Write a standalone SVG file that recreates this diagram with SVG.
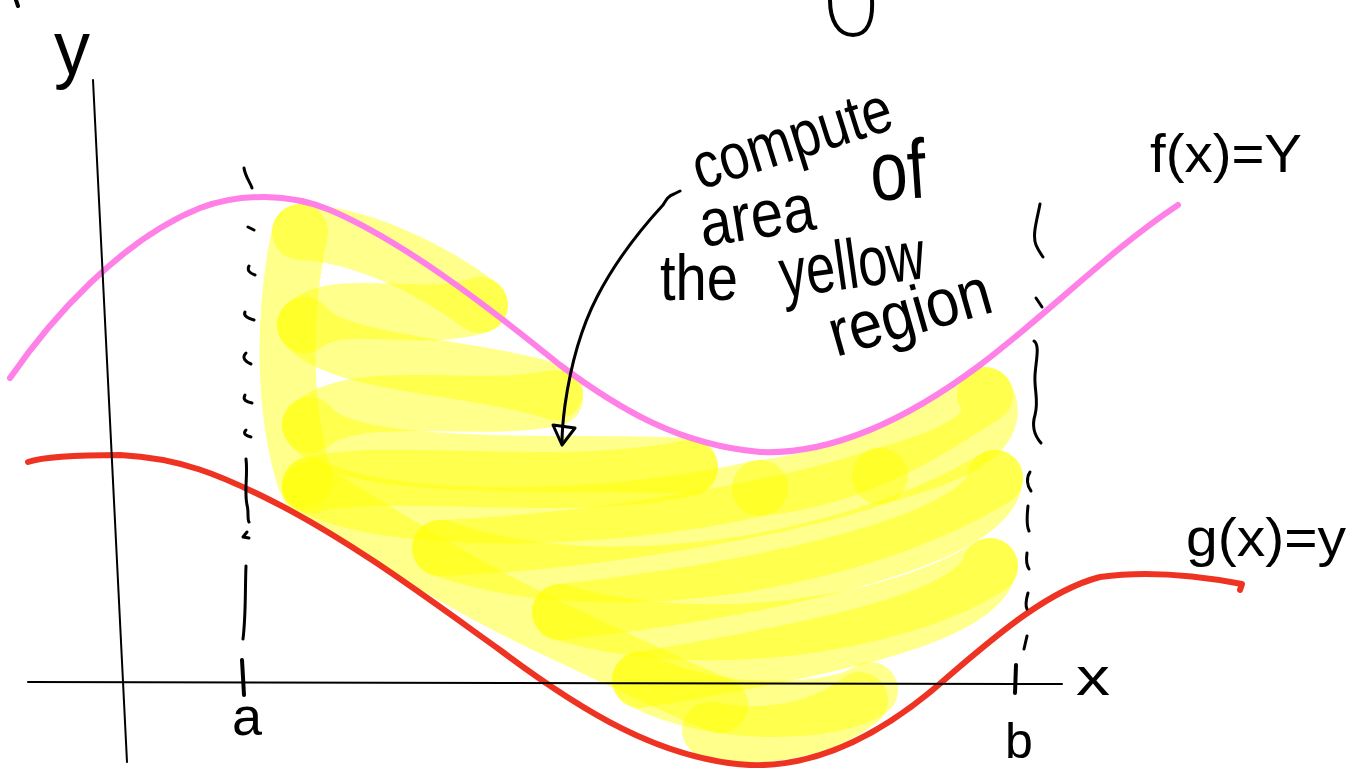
<svg xmlns="http://www.w3.org/2000/svg" width="1349" height="768" viewBox="0 0 1349 768">
<style>
.yl{fill:none;stroke:#ffff00;stroke-opacity:0.45;stroke-width:56;stroke-linecap:round;stroke-linejoin:round}
.ink{fill:none;stroke:#000;stroke-linecap:round;stroke-linejoin:round}
.ax{stroke-width:2}
.dash{stroke-width:3}
.t{font-family:"Liberation Sans",Arial,sans-serif;fill:#000}
</style>
<rect width="1349" height="768" fill="#fff"/>
<g id="yellow-region">
<path class="yl" d="M300,232 C285,300 280,400 305,480"/>
<path class="yl" d="M300,232 C360,234 430,268 480,305"/>
<path class="yl" d="M480,305 C420,325 340,295 305,325"/>
<path class="yl" d="M305,325 C335,365 470,365 555,392"/>
<path class="yl" d="M555,398 C470,415 360,385 310,425"/>
<path class="yl" d="M310,425 C345,475 560,460 690,466"/>
<path class="yl" d="M690,468 C560,495 390,465 310,485"/>
<path class="yl" d="M310,485 C380,525 600,525 760,488"/>
<path class="yl" d="M760,488 C860,478 930,430 985,395"/>
<path class="yl" d="M985,395 C1005,430 960,455 880,476"/>
<path class="yl" d="M880,476 C800,505 600,542 440,548"/>
<path class="yl" d="M440,548 C600,605 850,565 995,478"/>
<path class="yl" d="M995,478 C990,535 800,585 560,612"/>
<path class="yl" d="M560,612 C700,655 900,625 990,566"/>
<path class="yl" d="M990,566 C975,615 850,645 640,680"/>
<path class="yl" d="M640,680 C720,722 840,712 870,690"/>
<path class="yl" d="M710,730 C760,740 820,732 860,700"/>
<path class="yl" d="M310,490 C400,545 470,590 560,632 C620,660 680,690 720,705"/>
</g>
<g id="curve-f">
<path d="M10,378 C50,320 120,240 200,208 C240,193 290,193 330,210 C400,240 480,300 560,365 C620,410 680,445 760,452 C840,455 920,410 980,365 C1050,312 1110,250 1178,205" fill="none" stroke="#ff80e6" stroke-width="6" stroke-linecap="round"/>
</g>
<g id="curve-g">
<path d="M28,462 C40,458 60,455 120,455 C180,458 220,475 270,500 C350,540 430,600 500,650 C580,710 660,760 750,765 C830,768 900,720 950,675 C1000,632 1050,590 1100,577 C1150,570 1200,576 1242,584 L1240,590" fill="none" stroke="#ee3322" stroke-width="6" stroke-linecap="round" stroke-linejoin="round"/>
</g>
<g id="axes">
<path class="ink ax" d="M93,80 L127,762"/>
<path class="ink ax" d="M28,682 L1062,684"/>
<path class="ink" stroke-width="4" d="M242,660 L244,695"/>
<path class="ink" stroke-width="4" d="M1016,665 L1015,693"/>
</g>
<g id="bound-a">
<path class="ink dash" d="M244,168 C245,176 250,182 252,188"/>
<path class="ink dash" d="M248,227 L254,230"/>
<path class="ink dash" d="M249,266 C247,270 249,273 255,275"/>
<path class="ink dash" d="M245,312 C243,316 248,318 254,320"/>
<path class="ink dash" d="M246,353 C241,358 246,362 251,364"/>
<path class="ink dash" d="M245,395 C242,400 247,402 252,403"/>
<path class="ink dash" d="M246,430 C242,434 247,436 251,437"/>
<path class="ink dash" d="M246,459 C248,475 244,490 247,505 C249,512 247,518 249,522"/>
<path class="ink dash" d="M247,532 L243,537 L249,538"/>
<path class="ink dash" d="M246,566 C245,590 246,615 243,639"/>
</g>
<g id="bound-b">
<path class="ink dash" d="M1040,204 C1037,220 1032,235 1036,245 C1038,250 1041,254 1043,257"/>
<path class="ink dash" d="M1036,298 L1042,307"/>
<path class="ink dash" d="M1034,341 C1040,345 1036,360 1035,375 C1034,390 1039,400 1035,415 C1032,425 1034,435 1041,443"/>
<path class="ink dash" d="M1030,472 C1026,478 1027,486 1031,491"/>
<path class="ink dash" d="M1028,506 C1027,515 1026,525 1029,531"/>
<path class="ink dash" d="M1027,553 C1026,560 1027,566 1029,569"/>
<path class="ink dash" d="M1028,593 C1026,600 1025,605 1027,609"/>
<path class="ink dash" d="M1027,636 L1024,649"/>
</g>
<g id="top-marks">
<path class="ink" stroke-width="4" d="M830,0 C830,20 838,35 853,35 C868,35 873,20 872,0"/>
<path class="ink" stroke-width="4" d="M16,0 L18,6"/>
</g>
<g id="labels">
<text class="t" x="54" y="74" font-size="76" textLength="36" lengthAdjust="spacingAndGlyphs">y</text>
<text class="t" x="1076" y="695" font-size="54" textLength="34" lengthAdjust="spacingAndGlyphs">x</text>
<text class="t" x="232" y="735" font-size="54">a</text>
<text class="t" x="1005" y="758" font-size="50">b</text>
<text class="t" x="1150" y="172" font-size="54" textLength="152" lengthAdjust="spacingAndGlyphs">f(x)=Y</text>
<text class="t" x="1186" y="556" font-size="54" textLength="160" lengthAdjust="spacingAndGlyphs">g(x)=y</text>
</g>
<g id="annotation">
<text class="t" font-size="48" transform="translate(700,190) rotate(-17.5) scale(1,1.35)" textLength="206" lengthAdjust="spacingAndGlyphs">compute</text>
<text class="t" font-size="50" transform="translate(703,247) rotate(-9) scale(1,1.35)" textLength="116" lengthAdjust="spacingAndGlyphs">area</text>
<text class="t" font-size="60" transform="translate(872,201) rotate(-4) scale(1,1.4)" textLength="56" lengthAdjust="spacingAndGlyphs">of</text>
<text class="t" font-size="50" transform="translate(660,300) scale(1,1.3)" textLength="78" lengthAdjust="spacingAndGlyphs">the</text>
<text class="t" font-size="52" transform="translate(783,298) rotate(-8) scale(1,1.35)" textLength="146" lengthAdjust="spacingAndGlyphs">yellow</text>
<text class="t" font-size="50" transform="translate(836,357) rotate(-16) scale(1,1.35)" textLength="166" lengthAdjust="spacingAndGlyphs">region</text>
</g>
<g id="connectors">
<path class="ink" stroke-width="3" d="M680,191 L674,194 C668,196 666,200 663,205 C640,230 615,262 597,297 C580,330 570,370 565,405 C563,420 562,432 562,443"/>
<path class="ink" stroke-width="3" d="M553,425 L575,428 L562,445 Z"/>
</g>
</svg>
